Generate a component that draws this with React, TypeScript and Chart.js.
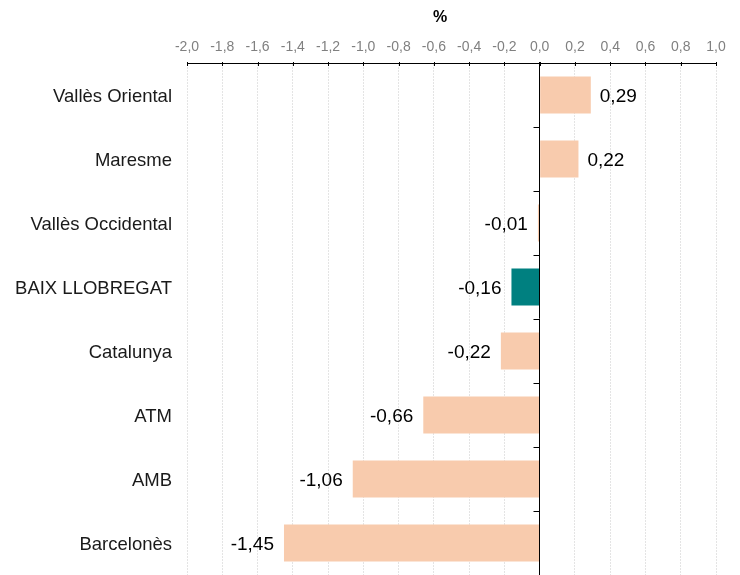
import React, { useEffect, useRef } from "react";
import { Chart, registerables } from "chart.js";

Chart.register(...registerables);

const categories = [
  "Vallès Oriental",
  "Maresme",
  "Vallès Occidental",
  "BAIX LLOBREGAT",
  "Catalunya",
  "ATM",
  "AMB",
  "Barcelonès",
];
const values = [0.29, 0.22, -0.01, -0.16, -0.22, -0.66, -1.06, -1.45];
const highlightCategory = "BAIX LLOBREGAT";
const axisTitle = "%";
const xMin = -2;
const xMax = 1;
const xStep = 0.2;

const FONT = "'Liberation Sans', Arial, sans-serif";
const PEACH = "#F8CBAD";
const TEAL = "#008080";

const fmt = (v: number, digits: number) => {
  if (Math.abs(v) < 1e-9) return (0).toFixed(digits).replace(".", ",");
  return v.toFixed(digits).replace(".", ",");
};

const overlayPlugin = {
  id: "overlay",
  afterDatasetsDraw(chart: any) {
    const { ctx, chartArea, scales } = chart;
    const x = scales.x;
    ctx.save();
    ctx.strokeStyle = "#000";
    ctx.lineWidth = 1;
    // top axis ticks pointing down
    x.ticks.forEach((t: any) => {
      const px = Math.round(x.getPixelForValue(t.value)) + 0.5;
      ctx.beginPath();
      ctx.moveTo(px, chartArea.top - 1);
      ctx.lineTo(px, chartArea.top + 3);
      ctx.stroke();
    });
    // zero line
    const zx = Math.round(x.getPixelForValue(0)) - 0.5;
    ctx.beginPath();
    ctx.moveTo(zx, chartArea.top - 1);
    ctx.lineTo(zx, chartArea.bottom);
    ctx.stroke();
    // category boundary ticks
    const n = categories.length;
    const h = (chartArea.bottom - chartArea.top) / n;
    for (let i = 1; i < n; i++) {
      const py = Math.round(chartArea.top + i * h) + 0.5;
      ctx.beginPath();
      ctx.moveTo(zx - 6, py);
      ctx.lineTo(zx, py);
      ctx.stroke();
    }
    // value labels
    ctx.fillStyle = "#000";
    ctx.font = `19px ${FONT}`;
    ctx.textBaseline = "middle";
    const meta = chart.getDatasetMeta(0);
    meta.data.forEach((bar: any, i: number) => {
      const v = values[i];
      const end = x.getPixelForValue(v);
      const cy = bar.y;
      if (v >= 0) {
        ctx.textAlign = "left";
        ctx.fillText(fmt(v, 2), end + 9, cy + 1.5);
      } else {
        ctx.textAlign = "right";
        ctx.fillText(fmt(v, 2), end - 10, cy + 1.5);
      }
    });
    // title
    ctx.font = `bold 16px ${FONT}`;
    ctx.textAlign = "center";
    ctx.fillText(axisTitle, 440, 18);
    ctx.restore();
  },
};

export default function App() {
  const ref = useRef<HTMLCanvasElement | null>(null);
  useEffect(() => {
    document.body.style.margin = "0";
    if (!ref.current) return;
    const chart = new Chart(ref.current, {
      type: "bar",
      data: {
        labels: categories,
        datasets: [
          {
            data: values,
            backgroundColor: categories.map((c) =>
              c === highlightCategory ? TEAL : PEACH
            ),
            borderWidth: 0,
            barPercentage: 0.578,
            categoryPercentage: 1,
          },
        ],
      },
      options: {
        indexAxis: "y",
        animation: false,
        responsive: false,
        devicePixelRatio: 1,
        layout: { padding: { left: 0, right: 24, top: 0, bottom: 0 } },
        plugins: {
          legend: { display: false },
          tooltip: { enabled: false },
        },
        scales: {
          x: {
            position: "top",
            min: xMin,
            max: xMax,
            ticks: {
              stepSize: xStep,
              color: "#808080",
              font: { size: 14, family: FONT },
              padding: 7,
              callback: (v: any) => fmt(Number(v), 1),
            },
            grid: { color: "#e4e4e4", drawTicks: false, lineWidth: 1 },
            border: { color: "#000", width: 1, dash: [2, 1] },
            afterFit: (s: any) => {
              s.height = 63;
            },
          },
          y: {
            grid: { display: false, drawTicks: false },
            border: { display: false },
            ticks: {
              color: "#1a1a1a",
              font: { size: 18.5, family: FONT },
              padding: 15,
              labelOffset: 2,
            },
            afterFit: (s: any) => {
              s.width = 187;
              s.paddingTop = 0;
              s.paddingBottom = 0;
            },
          },
        },
      },
      plugins: [overlayPlugin],
    });
    return () => chart.destroy();
  }, []);
  return (
    <div style={{ width: 740, height: 575 }}>
      <canvas ref={ref} width={740} height={575} />
    </div>
  );
}
